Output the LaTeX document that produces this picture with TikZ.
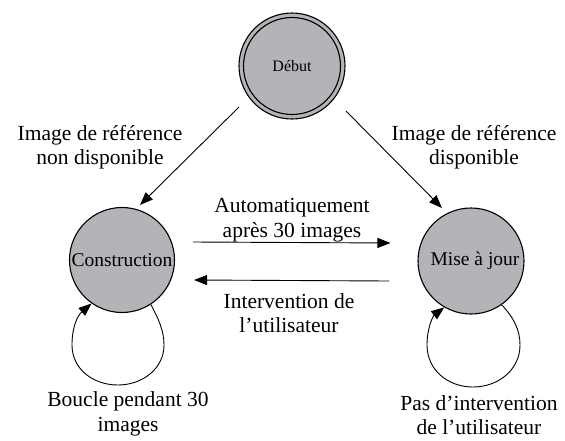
\documentclass[tikz,border=0pt]{standalone}
\usepackage{fontspec}
\setmainfont{Liberation Serif}
\usetikzlibrary{arrows.meta,calc}
\definecolor{stategray}{RGB}{180,180,184}
\tikzset{
  circ/.style={circle,draw=black,line width=1.1pt,fill=stategray,inner sep=0pt},
  lbl/.style={align=center,font=\fontsize{21.5}{24.5}\selectfont,inner sep=0pt},
  arr/.style={line width=0.9pt,-{Triangle[length=13pt,width=10pt]}}
}
\begin{document}
\begin{tikzpicture}[x=1pt,y=-1pt]
\useasboundingbox (0,0) rectangle (565,440);
% states
\node[circ,minimum size=106pt] (D) at (292,66) {};
\node[circ,minimum size=97pt,font=\fontsize{16}{18}\selectfont] (Dtxt) at (D) {Début};
\node[circ,minimum size=105pt,font=\fontsize{19.5}{22}\selectfont] (C) at (122,260) {Construction};
\node[circ,minimum size=106pt,font=\fontsize{19.5}{22}\selectfont] (M) at (471,261) {\hspace*{8pt}Mise à jour};
% free ends
\coordinate (dl) at (239,107);
\coordinate (dr) at (346,111);
\coordinate (cl) at ($(C)+(18,-55)$);
\coordinate (mr) at ($(M)+(-29,-53)$);
% diagonal arrows
\draw[arr] (dl) -- (cl);
\draw[arr] (dr) -- (mr);
% horizontal arrows
\draw[arr] ($(C.east)+(18,-18)$) -- ($(M.west)+(-27,-18)$);
\draw[arr] ($(M.west)+(-28,20)$) -- ($(C.east)+(19,20)$);
% loops
\draw[arr] (C.-57) .. controls (158,318) and (164,330) .. (164,345)
  .. controls (164,369) and (142,385) .. (118,385)
  .. controls (93,385) and (72,369) .. (72,345)
  .. controls (72,328) and (77,316) .. (C.-125);
\draw[arr] (M.-55) .. controls (514,318) and (520,330) .. (520,345)
  .. controls (520,370) and (498,387) .. (473,387)
  .. controls (448,387) and (427,370) .. (427,345)
  .. controls (427,328) and (433,316) .. (M.-120);
% labels
\node[lbl] (l1) at (100,147) {Image de référence\\non disponible};
\node[lbl] (l2) at (474,147) {Image de référence\\disponible};
\node[lbl] (l3) at (292,220) {Automatiquement\\après 30 images};
\node[lbl] (l4) at (289,313) {Intervention de\\l’utilisateur};
\node[lbl] (l5) at (128,414) {Boucle pendant 30\\images};
\node[lbl] (l6) at (479,415) {Pas d’intervention\\de l’utilisateur};
\end{tikzpicture}
\end{document}
